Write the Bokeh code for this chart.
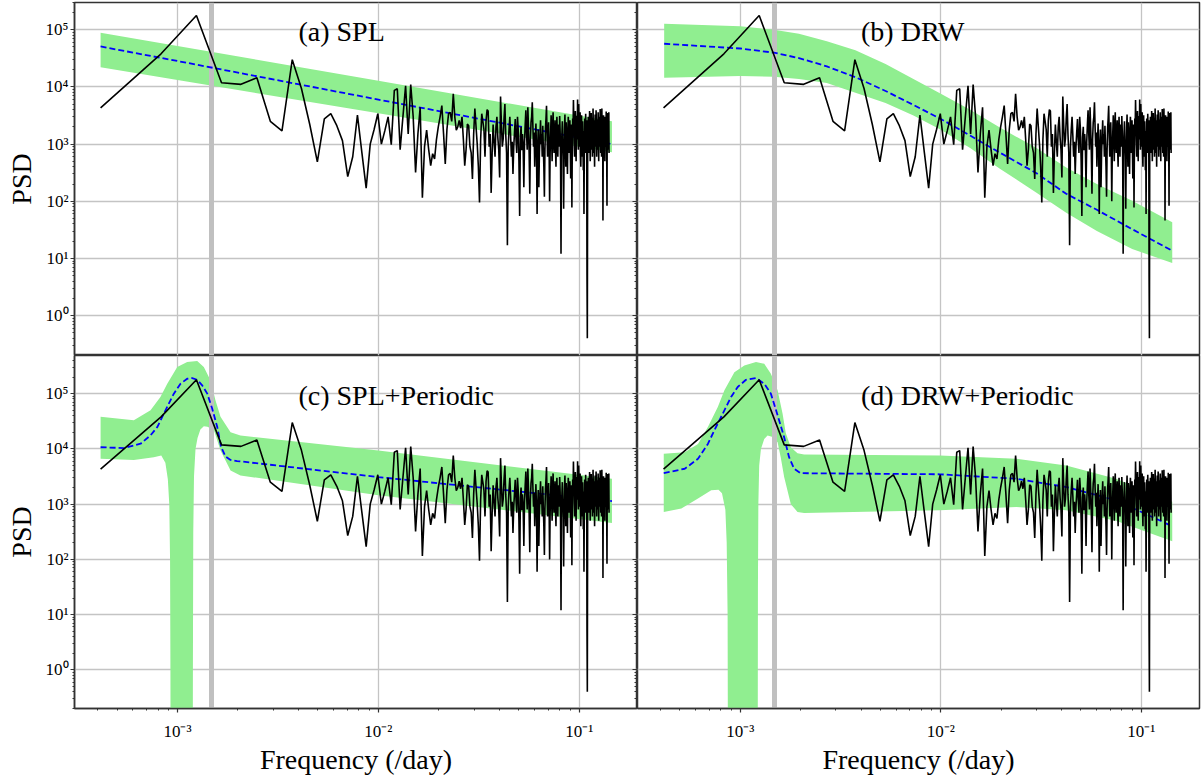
from bokeh.plotting import figure
from bokeh.layouts import gridplot
from bokeh.models import Range1d, FixedTicker, LogAxis, CustomJSTickFormatter
from bokeh.core.properties import value
from bokeh.embed import file_html
from bokeh.resources import INLINE

# ---------------- data ----------------
DF = 4.14e-4  # frequency spacing of the periodogram (/day)
PSD = [
    4300, 38000, 178000, 11800, 11100, 14500, 2500, 1700, 30000, 9400,
    2200, 490, 2760, 3400, 2100, 1150, 270, 600, 3200, 700,
    170, 1000, 1800, 3400, 1000, 1700, 3000, 980, 8700, 9300,
    800, 3000, 10500, 1500, 11000, 3000, 320, 1500, 4400, 115,
    900, 1750, 800, 420, 680, 550, 1200, 2000, 3000, 4700,
    1500, 450, 1800, 3400, 3600, 2500, 7600, 3000, 1750, 2000,
    2600, 1900, 3000, 1200, 420, 800, 2240, 2100, 900, 700,
    245, 1500, 4200, 2000, 1000, 400, 95, 1200, 3400, 2500,
    1800, 600, 2600, 4000, 3800, 900, 1500, 140, 700, 2200,
    1100, 600, 2000, 3000, 1300, 800, 260, 6800, 2200, 900,
    1230, 2800, 5000, 1500, 700, 17, 900, 1800, 3000, 1400,
    600, 1100, 300, 900, 1600, 2750, 1200, 700, 3000, 1800,
    500, 55, 1300, 2000, 780, 1500, 900, 175, 1100, 2200,
    3900, 1600, 800, 4400, 1900, 700, 135, 1200, 2400, 3000,
    5400, 2000, 900, 1600, 400, 1100, 2300, 780, 60, 900,
    1800, 175, 700, 1400, 2600, 1000, 1500, 600, 2100, 900,
    400, 120, 800, 1900, 2800, 4700, 1500, 600, 1200, 2400,
    900, 100, 700, 1600, 3200, 1300, 500, 2000, 3600, 1100,
    700, 1500, 2600, 800, 400, 1800, 3000, 1200, 600, 2200,
    1400, 900, 3100, 1700, 500, 12, 800, 1500, 2500, 1000,
    600, 74, 700, 1900, 3300, 1200, 400, 2400, 1600, 800,
    300, 1400, 3000, 2000, 700, 1100, 2600, 900, 250, 1500,
    2200, 78, 800, 2800, 1700, 5900, 2500, 1000, 600, 1800,
    3800, 1400, 500, 2300, 3100, 1200, 6000, 2000, 800, 5000,
    2400, 900, 1500, 3600, 700, 400, 1900, 3200, 1300, 600,
    2500, 1100, 350, 1700, 60, 900, 2800, 1500, 700, 3400,
    1800, 1200, 2600, 5, 0.4, 900, 1400, 3000, 2000, 700,
    1600, 3800, 1100, 500, 2400, 1300, 3500, 800, 1500, 2900,
    600, 1900, 4200, 1500, 700, 2600, 1200, 400, 2000, 3300,
    900, 1500, 3900, 2200, 600, 1300, 2700, 800, 1800, 3600,
    1100, 500, 2400, 1600, 3000, 900, 4100, 1700, 700, 2300,
    1200, 600, 4200, 1500, 800, 2500, 46, 1000, 3200, 1400,
    700, 2600, 1800, 500, 3000, 1100, 2200, 900, 3700, 1500,
    600, 83, 3500, 1300, 2500, 800, 3400, 1500, 3600, 700,
]
FREQ = [DF * (i + 1) for i in range(len(PSD))]

QPO_F = 1.48e-3  # gray vertical line

# (a) SPL
A_F = [4.14e-4, 1.0e-3, 1.0e-2, 1.455e-1]
A_MID = [51000, 28400, 6000, 1000]
A_UP = [89000, 52000, 12800, 2500]
A_LO = [22000, 13200, 3450, 720]

# (b) DRW
B_F = [4.17e-4, 1.0e-3, 1.47e-3, 1.96e-3, 2.7e-3, 3.75e-3, 5.3e-3, 7.3e-3,
       1.0e-2, 1.4e-2, 1.97e-2, 3.0e-2, 4.22e-2, 6.0e-2, 9.0e-2, 1.426e-1]
B_MID = [56900, 47000, 39800, 32000, 22900, 14800, 8500, 4840,
         2750, 1410, 708, 309, 135, 70.8, 32.4, 13.6]
B_UP = [127000, 115000, 100000, 85000, 63000, 43700, 25100, 13800,
        7590, 3980, 1950, 851, 389, 200, 102, 42.7]
B_LO = [14450, 15490, 15140, 13800, 11750, 7940, 5250, 3160,
        1780, 851, 372, 141, 63.1, 30.2, 14.6, 8.3]

# (c) SPL+Periodic
C_MID_F = [4.14e-4, 5.41e-4, 6.55e-4, 7.34e-4, 7.93e-4, 8.55e-4, 9.05e-4, 9.59e-4,
           1.035e-3, 1.117e-3, 1.183e-3, 1.253e-3, 1.327e-3, 1.406e-3, 1.488e-3,
           1.577e-3, 1.65e-3, 1.734e-3, 1.837e-3, 1.98e-3, 1.0e-2, 1.455e-1]
C_MID = [10700, 10350, 12400, 17600, 24800, 43400, 66100, 100000,
         151000, 186000, 191000, 178000, 141000, 100000, 53700,
         24800, 10700, 7240, 6310, 6030, 3090, 1135]
C_UP_F = [4.14e-4, 6.06e-4, 7.34e-4, 8.22e-4, 8.89e-4, 9.97e-4, 1.117e-3, 1.253e-3,
          1.352e-3, 1.459e-3, 1.545e-3, 1.637e-3, 1.837e-3, 2.057e-3, 1.0e-2, 1.455e-1]
C_UP = [38000, 33100, 50100, 87100, 151000, 302000, 372000, 389000,
        302000, 174000, 75900, 38000, 20000, 17400, 9330, 2880]
C_LO_F = [4.14e-4, 6.06e-4, 7.62e-4, 8.3e-4, 8.7e-4, 8.95e-4, 9.1e-4, 9.18e-4, 9.22e-4,
          9.25e-4, 1.19e-3, 1.193e-3, 1.198e-3, 1.208e-3, 1.229e-3, 1.258e-3, 1.30e-3,
          1.352e-3, 1.41e-3, 1.517e-3, 1.637e-3, 1.837e-3, 2.057e-3, 1.0e-2, 1.455e-1]
C_LO = [6610, 6310, 7080, 7590, 5620, 2820, 1000, 100, 1,
        0.001, 0.001, 1, 316, 3160, 10000, 15800, 22400,
        25700, 25100, 21900, 9330, 4070, 3310, 1450, 457]

# (d) DRW+Periodic
D_MID_F = [4.15e-4, 5.28e-4, 6.15e-4, 6.89e-4, 7.43e-4, 8.18e-4, 8.99e-4, 9.7e-4,
           1.067e-3, 1.197e-3, 1.316e-3, 1.42e-3, 1.534e-3, 1.654e-3, 1.75e-3,
           1.854e-3, 2.0e-3, 9.9e-3, 2.38e-2, 4.22e-2, 7.47e-2, 1.426e-1]
D_MID = [3630, 4370, 6610, 12300, 21900, 43700, 87100, 132000,
         178000, 191000, 151000, 100000, 40700, 16200, 7080,
         4370, 3630, 3470, 2880, 2040, 1175, 398]
D_UP_F = [4.15e-4, 5.28e-4, 6.15e-4, 6.89e-4, 7.72e-4, 8.33e-4, 9.34e-4, 1.047e-3,
          1.197e-3, 1.316e-3, 1.42e-3, 1.534e-3, 1.624e-3, 1.686e-3, 1.786e-3,
          1.928e-3, 2.08e-3, 9.9e-3, 2.38e-2, 4.22e-2, 7.47e-2, 1.426e-1]
D_UP = [8130, 8710, 12300, 24800, 57500, 115000, 245000, 324000,
        372000, 347000, 229000, 115000, 43700, 19100, 10700,
        8320, 7940, 7590, 6610, 5010, 2880, 1100]
D_LO_F = [4.15e-4, 5.08e-4, 6.15e-4, 7.16e-4, 7.78e-4, 8.1e-4, 8.42e-4, 8.55e-4, 8.64e-4,
          8.69e-4, 1.22e-3, 1.224e-3, 1.23e-3, 1.242e-3, 1.267e-3, 1.316e-3, 1.367e-3,
          1.437e-3, 1.534e-3, 1.59e-3, 1.654e-3, 1.786e-3, 1.928e-3, 2.08e-3,
          9.9e-3, 2.38e-2, 4.22e-2, 7.47e-2, 1.426e-1]
D_LO = [724, 832, 1260, 1780, 1820, 1580, 794, 200, 10,
        0.001, 0.001, 31.6, 1000, 5010, 10000, 15100, 17400,
        16600, 13200, 7080, 3090, 1000, 724, 692,
        776, 891, 776, 501, 214]

TITLES = ["(a) SPL", "(b) DRW", "(c) SPL+Periodic", "(d) DRW+Periodic"]
X_TICKS = [1e-3, 1e-2, 1e-1]
Y_TICKS = [1, 10, 100, 1000, 10000, 100000]
X_LABEL = "Frequency (/day)"
Y_LABEL = "PSD"

# ---------------- style ----------------
FONT = "Liberation Serif"
X_RANGE = (3.07e-4, 0.195)
TITLE_X, TITLE_Y = 4.0e-3, 9.3e4
X_MINOR = [m * 10.0 ** e for e in (-4, -3, -2, -1) for m in range(2, 10)]
Y_MINOR = [m * 10.0 ** e for e in (-1, 0, 1, 2, 3, 4, 5) for m in range(2, 10)]
SUP_JS = """
const s = {'-':'\u207b','0':'\u2070','1':'\u00b9','2':'\u00b2','3':'\u00b3','4':'\u2074',
           '5':'\u2075','6':'\u2076','7':'\u2077','8':'\u2078','9':'\u2079'};
const e = Math.round(Math.log10(tick));
return '10' + String(e).split('').map(c => s[c]).join('');
"""
DARK = "#333333"


def style_axis(ax, label):
    ax.axis_line_color = DARK
    ax.axis_line_width = 1.5
    ax.major_tick_line_color = DARK
    ax.minor_tick_line_color = DARK
    ax.major_tick_line_width = 1.2
    ax.minor_tick_line_width = 1
    ax.major_tick_out = 4
    ax.major_tick_in = 0
    ax.minor_tick_out = 2
    ax.minor_tick_in = 0
    ax.major_label_text_font = FONT
    ax.major_label_text_font_size = "17px"
    ax.major_label_text_color = "black"
    ax.axis_label = label
    ax.axis_label_text_font = FONT
    ax.axis_label_text_font_size = "28px"
    ax.axis_label_text_font_style = "normal"
    ax.axis_label_text_color = "black"
    ax.formatter = CustomJSTickFormatter(code=SUP_JS)


def make_panel(idx, ymax, fw, fh, is_left, is_bottom,
               f_mid, mid, f_up, up, f_lo, lo):
    p = figure(x_axis_type="log", y_axis_type="log",
               x_range=Range1d(*X_RANGE), y_range=Range1d(0.2, ymax),
               frame_width=fw, frame_height=fh,
               output_backend="svg", toolbar_location=None,
               min_border_left=74 if is_left else 0,
               min_border_right=0 if is_left else 3,
               min_border_top=0 if is_bottom else 2,
               min_border_bottom=69 if is_bottom else 0)
    p.outline_line_color = DARK
    p.outline_line_width = 1.5
    p.outline_line_alpha = 1.0
    p.background_fill_color = "white"
    p.border_fill_color = "white"

    xax = p.xaxis[0]
    yax = p.yaxis[0]
    xax.ticker = FixedTicker(ticks=X_TICKS, minor_ticks=X_MINOR)
    yax.ticker = FixedTicker(ticks=Y_TICKS, minor_ticks=Y_MINOR)
    style_axis(xax, X_LABEL)
    style_axis(yax, Y_LABEL)
    xax.major_label_standoff = 9
    xax.axis_label_standoff = 0
    yax.major_label_standoff = 2
    yax.axis_label_standoff = 6
    if not is_bottom:
        xax.visible = False
    if not is_left:
        yax.visible = False
    else:
        rax = LogAxis(ticker=FixedTicker(ticks=Y_TICKS, minor_ticks=Y_MINOR),
                      formatter=CustomJSTickFormatter(code="return '';"),
                      major_tick_in=5, major_tick_out=0,
                      minor_tick_in=3, minor_tick_out=0,
                      major_label_standoff=0,
                      major_label_text_font_size="0px",
                      axis_line_color=DARK, axis_line_width=1.5,
                      major_tick_line_color=DARK, minor_tick_line_color=DARK,
                      major_tick_line_width=1.2, minor_tick_line_width=1)
        p.add_layout(rax, "right")

    p.xgrid.ticker = FixedTicker(ticks=X_TICKS)
    p.ygrid.ticker = FixedTicker(ticks=Y_TICKS)
    p.grid.grid_line_color = "#c4c4c4"
    p.grid.grid_line_width = 1.3

    xs = list(f_up) + list(reversed(f_lo))
    ys = list(up) + list(reversed(lo))
    p.patch(xs, ys, fill_color="#90ee90", fill_alpha=1.0, line_color=None)
    p.vspan(x=[QPO_F], line_color="#c0c0c0", line_width=5)
    p.line(f_mid, mid, line_color="#0000ff", line_width=1.8, line_dash="6 3")
    p.line(FREQ, PSD, line_color="black", line_width=1.6)
    p.text(x=[TITLE_X], y=[TITLE_Y], text=[TITLES[idx]],
           text_font=value(FONT), text_font_size=value("28px"),
           text_color="black", text_align="left", text_baseline="alphabetic")
    return p


TOP_H, BOT_H = 353, 353
LW, RW = 563, 562
pa = make_panel(0, 3.0e5, LW, TOP_H, True, False, A_F, A_MID, A_F, A_UP, A_F, A_LO)
pb = make_panel(1, 3.0e5, RW, TOP_H, False, False, B_F, B_MID, B_F, B_UP, B_F, B_LO)
pc = make_panel(2, 4.9e5, LW, BOT_H, True, True, C_MID_F, C_MID, C_UP_F, C_UP, C_LO_F, C_LO)
pd = make_panel(3, 4.9e5, RW, BOT_H, False, True, D_MID_F, D_MID, D_UP_F, D_UP, D_LO_F, D_LO)

grid = gridplot([[pa, pb], [pc, pd]], toolbar_location=None)

with open("out.html", "w") as fh:
    fh.write(file_html(grid, INLINE))
